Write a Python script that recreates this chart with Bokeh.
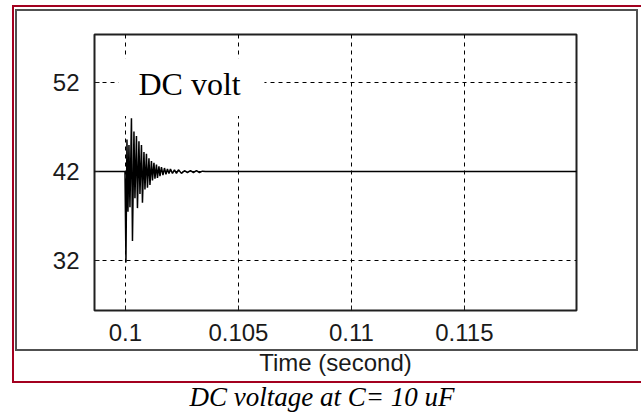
from bokeh.plotting import figure
from bokeh.models import Range1d, FixedTicker, BoxAnnotation, Label, Title
from bokeh.embed import file_html
from bokeh.resources import INLINE

# DC voltage transient
t_values = [0.0985, 0.099978, 0.100022, 0.100066, 0.100111, 0.100155, 0.100199,
            0.100265, 0.100310, 0.100376, 0.100420, 0.100487, 0.100531, 0.100597,
            0.100642, 0.100708, 0.100752, 0.100819, 0.100863, 0.100929, 0.100973,
            0.101040, 0.101084, 0.101150, 0.101195, 0.101261, 0.101305, 0.101372,
            0.101416, 0.101482, 0.101527, 0.101593, 0.101659, 0.101726, 0.101792,
            0.101858, 0.101925, 0.101991, 0.102080, 0.102168, 0.102257, 0.102345,
            0.102478, 0.102611, 0.102743, 0.102876, 0.103009, 0.103142, 0.103274,
            0.103407, 0.103540, 0.1205]
v_values = [42.0, 42.0, 31.8, 45.6, 37.5, 45.0, 38.0,
            48.0, 34.2, 46.5, 39.0, 46.0, 37.9, 45.4,
            39.5, 45.0, 38.5, 44.2, 40.0, 44.0, 40.2,
            43.5, 40.5, 43.2, 41.0, 43.0, 41.2, 42.8,
            41.3, 42.6, 41.5, 42.5, 41.6, 42.4, 41.7,
            42.3, 41.8, 42.3, 41.8, 42.2, 41.8, 42.2,
            41.8, 42.1, 41.9, 42.1, 41.9, 42.1, 41.9,
            42.05, 42.0, 42.0]

x_ticks = [0.1, 0.105, 0.11, 0.115]
x_tick_labels = ["0.1", "0.105", "0.11", "0.115"]
y_ticks = [32, 42, 52]
y_tick_labels = ["32", "42", "52"]
x_axis_label = "Time (second)"
signal_name = "DC volt"
caption = "DC voltage at C= 10 uF"

# decorative frames around the chart (page pixels: x, y, w, h)
RED = "#a3001f"
GRAY = "#505050"
frame_rects = [(RED, 12, 5, 629, 2), (RED, 12, 5, 2, 378), (RED, 12, 381, 629, 2),
               (GRAY, 15, 9, 623, 2), (GRAY, 15, 9, 2, 342),
               (GRAY, 636, 9, 2, 342), (GRAY, 15, 349, 623, 2)]
bg = ", ".join(f"linear-gradient({c},{c}) {x}px {y}px / {w}px {h}px no-repeat"
               for c, x, y, w, h in frame_rects) + ", #ffffff"

p = figure(width=641, height=412, output_backend="svg", toolbar_location=None,
           x_range=Range1d(0.09863, 0.11996), y_range=Range1d(26.4, 57.4),
           min_border_left=94, min_border_right=65, min_border_top=34,
           min_border_bottom=101, styles={"background": bg})
p.background_fill_color = "white"
p.border_fill_alpha = 0
p.outline_line_color = "#202020"
p.outline_line_width = 2

for ax, ticks, labels in ((p.xaxis[0], x_ticks, x_tick_labels),
                          (p.yaxis[0], y_ticks, y_tick_labels)):
    ax.ticker = FixedTicker(ticks=ticks)
    ax.major_label_overrides = dict(zip(ticks, labels))
    ax.axis_line_color = None
    ax.major_tick_in = 5
    ax.major_tick_out = 0
    ax.major_tick_line_color = "#1a1a1a"
    ax.minor_tick_line_color = None
    ax.major_label_text_font = "Liberation Sans"
    ax.major_label_text_font_size = "24px"
    ax.major_label_text_color = "#1a1a1a"

p.xaxis.major_label_standoff = 13
p.yaxis.major_label_standoff = 15
p.xaxis.axis_label = x_axis_label
p.xaxis.axis_label_text_font = "Liberation Sans"
p.xaxis.axis_label_text_font_size = "24px"
p.xaxis.axis_label_text_font_style = "normal"
p.xaxis.axis_label_text_color = "#1a1a1a"
p.xaxis.axis_label_standoff = 5

p.grid.grid_line_color = "black"
p.grid.grid_line_dash = "4 4"
p.grid.grid_line_width = 1

p.line(t_values, v_values, line_color="black", line_width=1.5)

# white box behind the series name
p.add_layout(BoxAnnotation(left=0.09969, right=0.10615, bottom=48.26, top=54.74,
                           fill_color="white", fill_alpha=1.0, line_color=None))
p.add_layout(Label(x=0.100575, y=51.8, text=signal_name, text_baseline="alphabetic",
                   text_font="Liberation Serif", text_font_size="32px", text_color="black"))

p.add_layout(Title(text=caption, align="left", offset=95, standoff=2,
                   text_font="Liberation Serif", text_font_style="italic",
                   text_font_size="27px", text_color="black"), "below")

open("out.html", "w").write(file_html(p, INLINE))
